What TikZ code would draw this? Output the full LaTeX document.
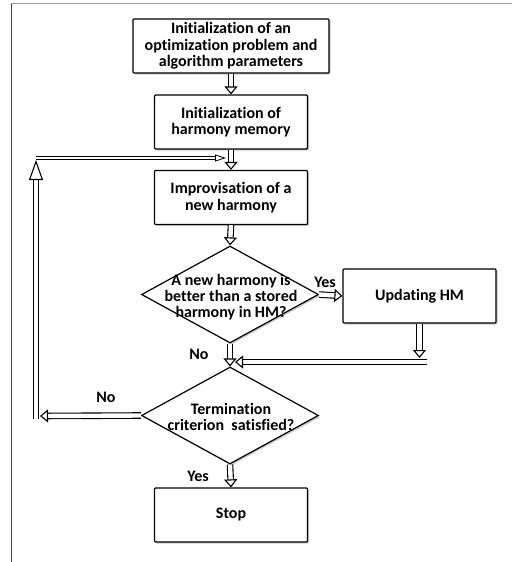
\documentclass[tikz,border=0pt]{standalone}
\usepackage{fontspec}
\setmainfont{Carlito}[Ligatures={NoCommon}]
\usetikzlibrary{shapes.geometric,arrows.meta,shadows}
\begin{document}
\begin{tikzpicture}[x=1pt,y=-1pt,
  shad/.style={drop shadow={shadow xshift=1.6pt, shadow yshift=-1.6pt, fill=black!45, opacity=.45}},
  box/.style={draw, line width=1.2pt, fill=white, rectangle, rounded corners=1pt,
    minimum width=153pt, minimum height=54pt, inner sep=1pt, align=center,
    font=\bfseries\fontsize{16}{16.5}\selectfont, shad},
  dia/.style={draw, diamond, line width=1.2pt, fill=white, minimum width=177pt,
    minimum height=97pt, inner sep=0pt, shad},
  txt/.style={align=center, inner sep=0pt, font=\bfseries\fontsize{16}{16.2}\selectfont},
  lbl/.style={inner sep=0pt, font=\bfseries\fontsize{16}{16.5}\selectfont},
  arr/.style={double=white, double distance=4.4pt, line width=1.1pt,
    -{Triangle[open, fill=white, length=8pt, width=13pt, line width=1.1pt]}},
  arrthin/.style={double=white, double distance=1.6pt, line width=0.8pt,
    -{Triangle[open, fill=white, length=11pt, width=7pt, line width=0.8pt]}},
  arrbig/.style={double=white, double distance=4.4pt, line width=1.1pt,
    -{Triangle[open, fill=white, length=20pt, width=14pt, line width=1.1pt]}}
]
\useasboundingbox (0,0) rectangle (512,562);
% frame
\draw[black!75, line width=1pt] (11,562) -- (11,3);
\draw[black!40, line width=1pt] (11,3) -- (512,3);

% nodes
\node[box, minimum width=196pt] (b1) at (231,46) {Initialization of an\\optimization problem and\\algorithm parameters};
\node[box] (b2) at (231,122) {Initialization of\\harmony memory};
\node[box] (b3) at (231,197.5) {Improvisation of a\\new harmony};
\node[dia] (d1) at (230,294.5) {};
\node[txt] (d1t) at (231,297) {A new harmony is\\better than a stored\\harmony in HM?};
\node[box] (upd) at (419.5,296) {Updating HM};
\node[dia] (d2) at (230,415.5) {};
\node[txt] (d2t) at (231,417) {Termination\\criterion\ \ satisfied?};
\node[box] (stop) at (231,515) {Stop};

% labels
\node[lbl] (yes1) at (325,282) {Yes};
\node[lbl] (no1) at (199,354) {No};
\node[lbl] (no2) at (106,397) {No};
\node[lbl] (yes2) at (198,476) {Yes};

% coordinates
\coordinate (ua) at (419.5,358);
\coordinate (hr) at (427,362);
\coordinate (hl) at (235,362);
\coordinate (lt) at (40,416);
\coordinate (lb) at (36,419);
\coordinate (lu) at (36,160);
\coordinate (tl) at (36,158);
\coordinate (tr) at (226,158);

% connectors
\draw[arrthin] (tl) -- (tr);
\draw[arr] (b1.south) -- (b2.north);
\draw[arr] (b2.south) -- (b3.north);
\draw[arr] (b3.south) -- (d1.north);
\draw[arr] (d1.east) -- (upd.west);
\draw[arr] (upd.south) -- (ua);
\draw[arr] (hr) -- (hl);
\draw[arr] (d1.south) -- (d2.north);
\draw[arr] (d2.south) -- (stop.north);
\draw[arr] (d2.west) -- (lt);
\draw[arrbig] (lb) -- (lu);
\end{tikzpicture}
\end{document}
